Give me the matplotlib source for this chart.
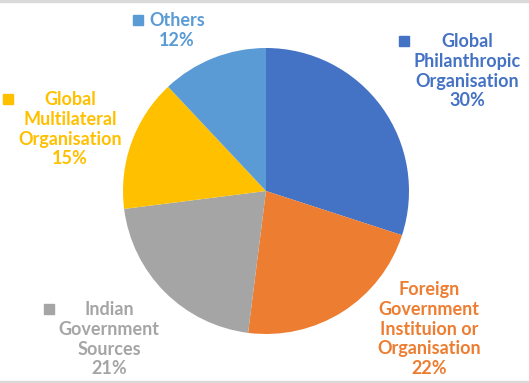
import matplotlib.pyplot as plt
from matplotlib.patches import Rectangle

categories = ["Global\nPhilanthropic\nOrganisation",
              "Foreign\nGovernment\nInstituion or\nOrganisation",
              "Indian\nGovernment\nSources",
              "Global\nMultilateral\nOrganisation",
              "Others"]
shares = [30, 22, 21, 15, 12]
colors = ["#4472C4", "#ED7D31", "#A5A5A5", "#FFC000", "#5B9BD5"]

# label anchor (text centre x, first line centre y) and marker position, in pixels
label_pos = [(467, 41), (429, 289), (109, 309), (70, 99), (177, 20)]
marker_pos = [(404, 41), None, (49, 309), (8, 99), (138, 20)]

W, H = 529, 383
fig = plt.figure(figsize=(W / 100, H / 100), dpi=100)
ax = fig.add_axes([0, 0, 1, 1])

ax.pie(shares, colors=colors, startangle=90, counterclock=False,
       center=(266, H - 191), radius=143, frame=True)
ax.set_xlim(0, W)
ax.set_ylim(0, H)
ax.set_aspect("equal")
ax.axis("off")

for cat, val, col, (tx, ty), mp in zip(categories, shares, colors, label_pos, marker_pos):
    ax.text(tx, H - ty + 8, f"{cat}\n{val}%", color=col, ha="center", va="top",
            fontsize=13, fontfamily="Lato", fontweight="bold", linespacing=1.2)
    if mp is not None:
        ax.add_patch(Rectangle((mp[0] - 5, H - mp[1] - 5), 10, 10, color=col))

# thin grey frame lines at top and bottom
ax.add_patch(Rectangle((0, H - 2), W, 2, color="#D9D9D9", clip_on=False))
ax.add_patch(Rectangle((0, 0), W, 2, color="#D9D9D9", clip_on=False))

fig.savefig("out.png", dpi=100)
